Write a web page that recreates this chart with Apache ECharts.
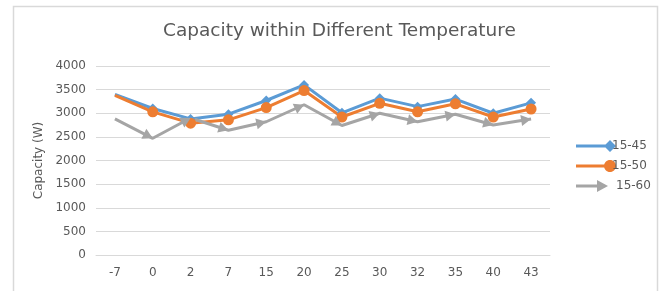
<!DOCTYPE html>
<html>
<head>
<meta charset="utf-8">
<script src="https://cdn.jsdelivr.net/npm/echarts@6/dist/echarts.min.js"></script>
<style>
    html, body { margin: 0; padding: 0; background: #fff; }
    #chart { width: 662px; height: 291px; }
</style>
</head>
<body>
<div id="chart"></div>
<script>
    // 温度分类与三组容量数据
    const temps = ['-7', '0', '2', '7', '15', '20', '25', '30', '32', '35', '40', '43'];
    const cap1545 = [3400, 3100, 2880, 2980, 3270, 3600, 3010, 3320, 3140, 3300, 3000, 3220];
    const cap1550 = [3380, 3030, 2790, 2860, 3120, 3480, 2920, 3210, 3030, 3200, 2920, 3090];
    const cap1560 = [2880, 2470, 2900, 2640, 2820, 3180, 2740, 3000, 2820, 2980, 2750, 2880];
    const yTicks = [0, 500, 1000, 1500, 2000, 2500, 3000, 3500, 4000];

    const font = 'DejaVu Sans';
    const textColor = '#595959';
    const colors = ['#5b9bd5', '#ed7d31', '#a5a5a5'];

    // 图例图标：线段 + 右端标记
    const iconDiamond = 'path://M0,4.5L34,4.5L34,7.5L0,7.5Z M34,0L40,6L34,12L28,6Z';
    const iconCircle = 'path://M0,4.5L34,4.5L34,7.5L0,7.5Z M28,6C28,2.686 30.686,0 34,0C37.314,0 40,2.686 40,6C40,9.314 37.314,12 34,12C30.686,12 28,9.314 28,6Z';
    const iconArrow = 'path://M0,4.5L22,4.5L22,7.5L0,7.5Z M21,0L32,6L21,12Z M39.7,5.8L40,6L39.7,6.2Z';

    // 第一个点不画标记
    function firstNoSymbol(arr) {
        return arr.map((v, i) => i === 0 ? { value: v, symbol: 'none' } : v);
    }

    const chart = echarts.init(document.getElementById('chart'));

    let option = {
        animation: false,
        title: {
            text: 'Capacity within Different Temperature',
            left: 158,
            top: 17,
            textStyle: {
                fontFamily: font,
                fontWeight: 'normal',
                fontSize: 18.5,
                color: textColor
            }
        },
        graphic: [{
            type: 'rect',
            shape: { x: 13.5, y: 6.5, width: 644, height: 300 },
            style: { fill: 'none', stroke: '#d9d9d9', lineWidth: 1.5 },
            silent: true
        }],
        legend: {
            orient: 'vertical',
            left: 571,
            top: 135,
            itemGap: 8,
            itemWidth: 40,
            itemHeight: 12,
            symbolKeepAspect: false,
            textStyle: { fontFamily: font, fontSize: 12, color: textColor, padding: [0, 0, 0, -9] },
            data: [
                { name: '15-45', icon: iconDiamond, itemStyle: { color: colors[0], borderWidth: 0 } },
                { name: '15-50', icon: iconCircle, itemStyle: { color: colors[1], borderWidth: 0 } },
                {
                    name: '15-60', icon: iconArrow, itemStyle: { color: colors[2], borderWidth: 0 },
                    textStyle: { padding: [0, 0, 0, -5] }
                }
            ]
        },
        grid: {
            left: 96,
            right: 112,
            top: 66,
            bottom: 36
        },
        xAxis: {
            type: 'category',
            data: temps,
            axisTick: { show: false },
            axisLine: { lineStyle: { color: '#d9d9d9' } },
            axisLabel: { fontFamily: font, fontSize: 12, color: textColor, margin: 12 }
        },
        yAxis: {
            type: 'value',
            min: yTicks[0],
            max: yTicks[yTicks.length - 1],
            interval: 500,
            name: 'Capacity (W)',
            nameLocation: 'middle',
            nameGap: 44,
            nameTextStyle: { fontFamily: font, fontSize: 12, color: textColor },
            axisLine: { show: false },
            axisTick: { show: false },
            axisLabel: {
                fontFamily: font, fontSize: 12, color: textColor, margin: 10,
                formatter: v => String(v)
            },
            splitLine: { lineStyle: { color: '#d9d9d9', width: 1 } }
        },
        series: [
            {
                name: '15-45',
                type: 'line',
                data: firstNoSymbol(cap1545),
                symbol: 'diamond',
                symbolSize: 10,
                lineStyle: { width: 3, color: colors[0] },
                itemStyle: { color: colors[0] }
            },
            {
                name: '15-50',
                type: 'line',
                data: firstNoSymbol(cap1550),
                symbol: 'circle',
                symbolSize: 11,
                lineStyle: { width: 3, color: colors[1] },
                itemStyle: { color: colors[1] }
            },
            {
                name: '15-60',
                type: 'line',
                data: firstNoSymbol(cap1560),
                symbol: 'triangle',
                symbolSize: [11, 10],
                lineStyle: { width: 3, color: colors[2] },
                itemStyle: { color: colors[2] }
            }
        ]
    };
    chart.setOption(option);

    // 箭头方向跟随线段方向，箭尖落在数据点上
    const pts = cap1560.map((v, i) => chart.convertToPixel({ seriesIndex: 2 }, [i, v]));
    const arrowData = cap1560.map((v, i) => {
        if (i === 0) {
            return { value: v, symbol: 'none' };
        }
        const dx = pts[i][0] - pts[i - 1][0];
        const dy = pts[i][1] - pts[i - 1][1];
        const len = Math.sqrt(dx * dx + dy * dy);
        const theta = Math.atan2(-dy, dx) * 180 / Math.PI;
        return {
            value: v,
            symbolRotate: theta - 90,
            symbolOffset: [-dx / len * 5, -dy / len * 5]
        };
    });
    chart.setOption({ series: [{}, {}, { data: arrowData }] });
</script>
</body>
</html>
